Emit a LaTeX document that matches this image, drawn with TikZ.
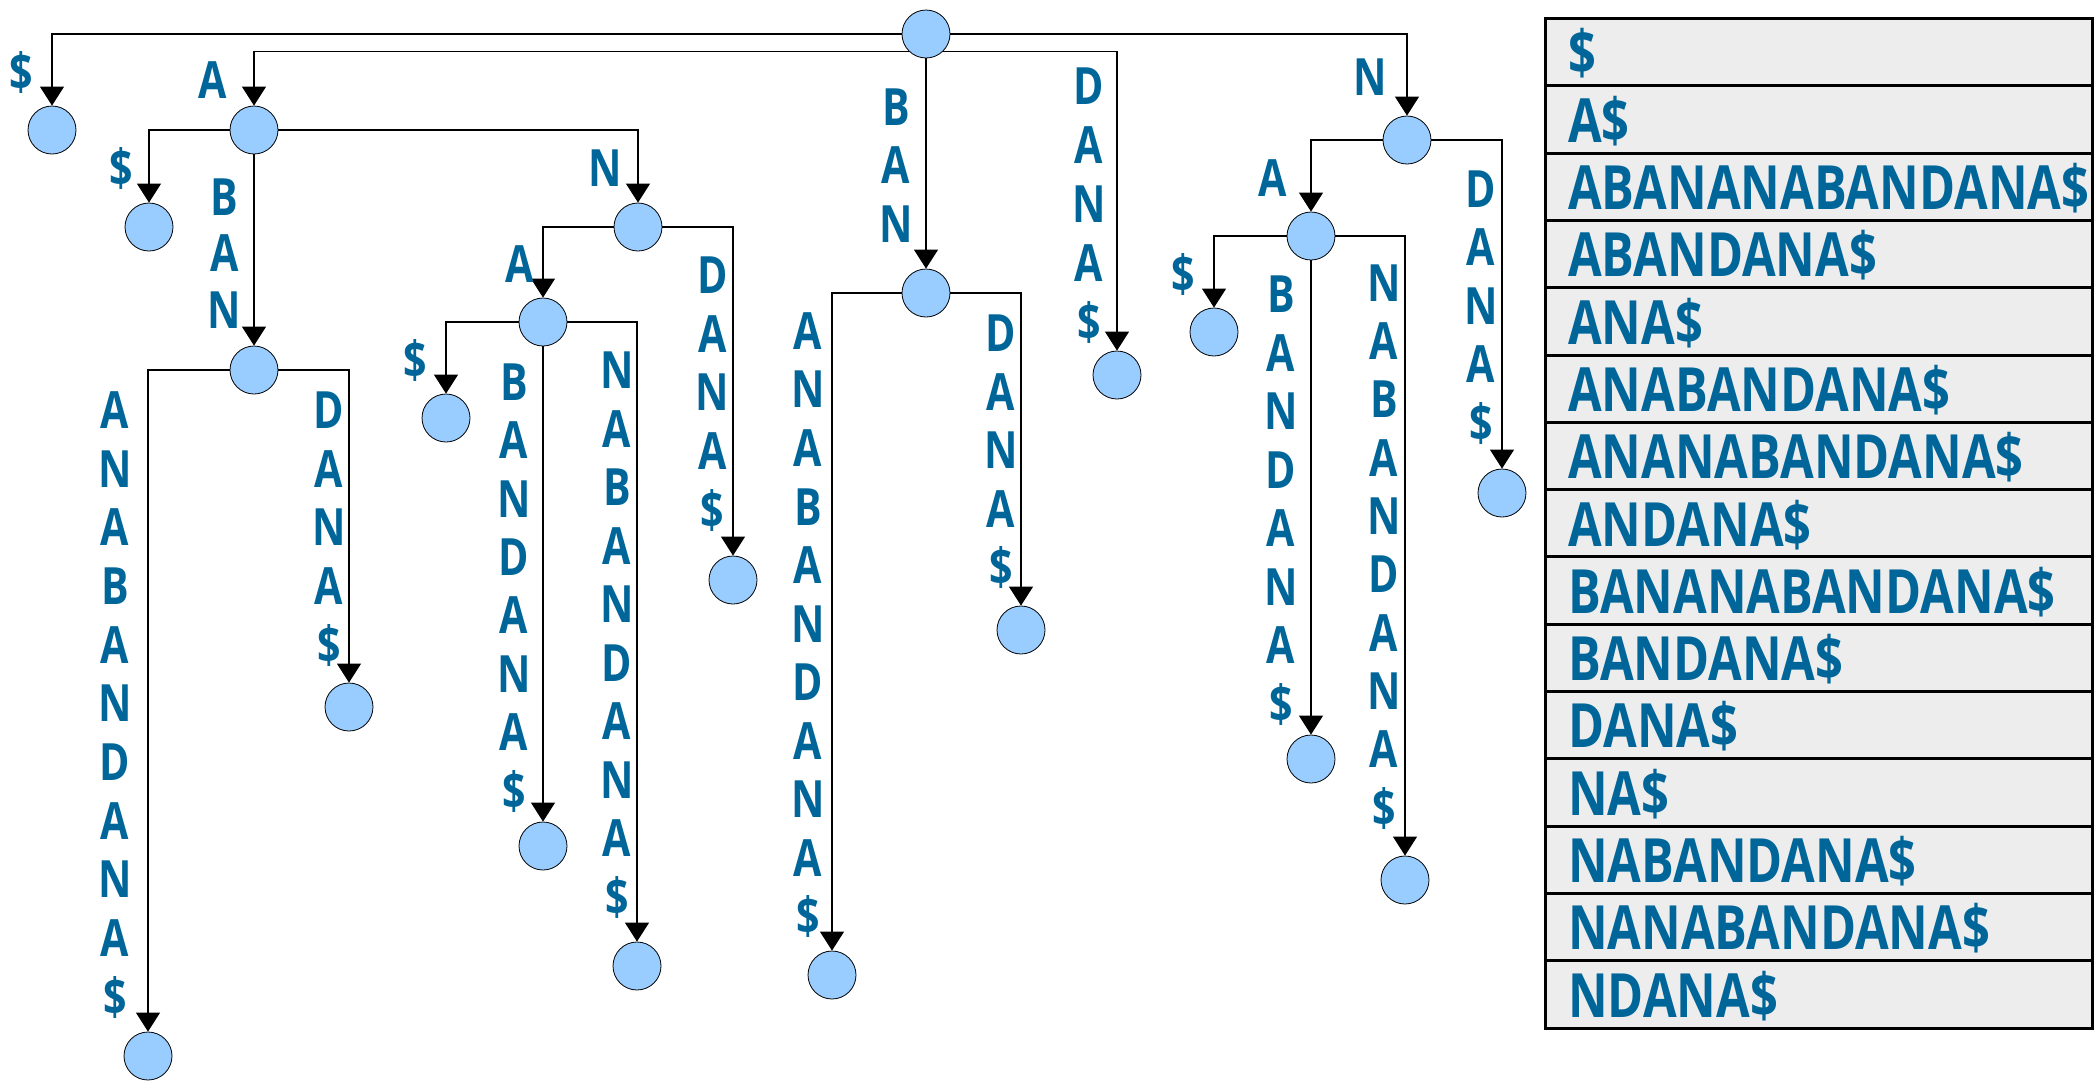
\documentclass[tikz,border=0pt]{standalone}
\usepackage{fontspec}
\usetikzlibrary{arrows.meta}
\newfontfamily\lblfont{Open Sans}[FakeStretch=0.8]
\definecolor{txtblue}{HTML}{006699}
\definecolor{nodeblue}{HTML}{99CCFF}
\definecolor{rowgray}{HTML}{EDEDED}
\newcommand\vlab[5]{%
  \foreach \c [count=\i] in {#5} \node[lbl] (#1-\i) at (#2, {#3+(\i-1)*#4}) {\c};%
}
\begin{document}
\begin{tikzpicture}[x=1pt,y=-1pt,
  tnode/.style={circle,draw=black,line width=0.8pt,fill=nodeblue,minimum size=48pt,inner sep=0pt},
  conn/.style={draw=black,line width=1.1pt,-{Triangle[width=24pt,length=19pt]}},
  lbl/.style={font=\lblfont\bfseries\fontsize{51.4}{55}\selectfont,text=txtblue,inner sep=0pt,text height=36.7pt,text depth=0pt},
  rowbox/.style={draw=black,line width=3pt,fill=rowgray},
  rowtext/.style={font=\lblfont\bfseries\fontsize{61}{66}\selectfont,text=txtblue,inner sep=0pt,text height=43.5pt,text depth=0pt,anchor=west}
]
\useasboundingbox (0,0) rectangle (2096,1080);

% ---- tree nodes ----
\node[tnode] (R) at (926,34) {};
\node[tnode] (L1) at (52,130) {};
\node[tnode] (A) at (254,130) {};
\node[tnode] (B1) at (926,293) {};
\node[tnode] (D1) at (1117,375) {};
\node[tnode] (N) at (1407,140) {};

\node[tnode] (L2) at (149,227) {};
\node[tnode] (AB) at (254,370) {};
\node[tnode] (AN) at (638,227) {};

\node[tnode] (ABl) at (148,1056) {};
\node[tnode] (ABr) at (349,707) {};

\node[tnode] (ANA) at (543,322) {};
\node[tnode] (ANr) at (733,580) {};

\node[tnode] (ANAl) at (446,418) {};
\node[tnode] (ANAm) at (543,846) {};
\node[tnode] (ANAr) at (637,966) {};

\node[tnode] (B1l) at (832,975) {};
\node[tnode] (B1r) at (1021,630) {};

\node[tnode] (NA) at (1311,236) {};
\node[tnode] (Nr) at (1502,493) {};

\node[tnode] (NAl) at (1214,332) {};
\node[tnode] (NAm) at (1311,759) {};
\node[tnode] (NAr) at (1405,880) {};

% ---- connectors ----
\draw[conn] (R.west) -| (L1);
\draw[conn] (R.225) -| (A);
\draw[conn] (R) -- (B1);
\draw[conn] (R.-45) -| (D1);
\draw[conn] (R.east) -| (N);

\draw[conn] (A.west) -| (L2);
\draw[conn] (A) -- (AB);
\draw[conn] (A.east) -| (AN);

\draw[conn] (AB.west) -| (ABl);
\draw[conn] (AB.east) -| (ABr);

\draw[conn] (AN.west) -| (ANA);
\draw[conn] (AN.east) -| (ANr);

\draw[conn] (ANA.west) -| (ANAl);
\draw[conn] (ANA) -- (ANAm);
\draw[conn] (ANA.east) -| (ANAr);

\draw[conn] (B1.west) -| (B1l);
\draw[conn] (B1.east) -| (B1r);

\draw[conn] (N.west) -| (NA);
\draw[conn] (N.east) -| (Nr);

\draw[conn] (NA.west) -| (NAl);
\draw[conn] (NA) -- (NAm);
\draw[conn] (NA.east) -| (NAr);

% ---- edge labels ----
\node[lbl] (t-L1) at (21,72) {\$};
\node[lbl] (t-A) at (213,80) {A};
\vlab{t-B1}{896}{107}{58.5}{B,A,N}
\vlab{t-D1}{1089}{86}{59}{D,A,N,A,\$}
\node[lbl] (t-N) at (1370,77) {N};

\node[lbl] (t-L2) at (121,168) {\$};
\vlab{t-AB}{224.5}{197}{56.5}{B,A,N}
\node[lbl] (t-AN) at (605,168) {N};

\vlab{t-ABl}{115}{410}{58.7}{A,N,A,B,A,N,D,A,N,A,\$}
\vlab{t-ABr}{329}{410}{58.7}{D,A,N,A,\$}

\node[lbl] (t-ANA) at (520,264) {A};
\vlab{t-ANr}{712.5}{275}{58.7}{D,A,N,A,\$}

\node[lbl] (t-ANAl) at (415,360) {\$};
\vlab{t-ANAm}{514}{382}{58.4}{B,A,N,D,A,N,A,\$}
\vlab{t-ANAr}{617}{370.5}{58.5}{N,A,B,A,N,D,A,N,A,\$}

\vlab{t-B1l}{808}{331}{58.56}{A,N,A,B,A,N,D,A,N,A,\$}
\vlab{t-B1r}{1001}{333.5}{58.5}{D,A,N,A,\$}

\node[lbl] (t-NA) at (1273,178) {A};
\vlab{t-Nr}{1481}{189}{58.5}{D,A,N,A,\$}

\node[lbl] (t-NAl) at (1183,274) {\$};
\vlab{t-NAm}{1281}{294.5}{58.5}{B,A,N,D,A,N,A,\$}
\vlab{t-NAr}{1384}{283}{58.3}{N,A,B,A,N,D,A,N,A,\$}

% ---- suffix table ----
\foreach \t [count=\i] in {\$,A\$,ABANANABANDANA\$,ABANDANA\$,ANA\$,ANABANDANA\$,ANANABANDANA\$,ANDANA\$,BANANABANDANA\$,BANDANA\$,DANA\$,NA\$,NABANDANA\$,NANABANDANA\$,NDANA\$}{
  \path[rowbox] (1545,{18.5+(\i-1)*67.3}) rectangle (2092,{18.5+\i*67.3});
  \node[rowtext] (row-\i) at (1568,{18.5+(\i-0.5)*67.3+1}) {\t};
}
\end{tikzpicture}
\end{document}
